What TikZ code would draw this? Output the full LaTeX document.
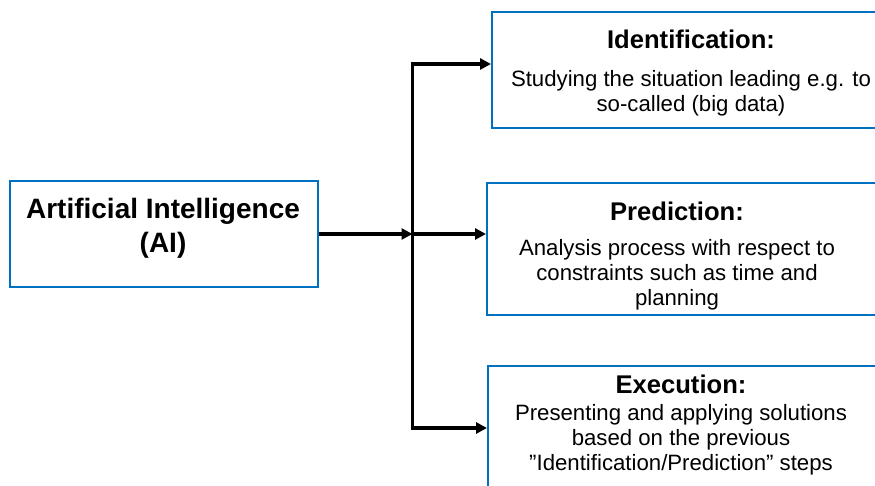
\documentclass[tikz,border=0pt]{standalone}
\usepackage{fontspec}
\setmainfont{Liberation Sans}
\usetikzlibrary{arrows.meta}
\definecolor{boxblue}{RGB}{0,112,192}
\tikzset{
  box/.style={draw=boxblue, line width=2.2pt, rectangle, inner sep=0pt},
  conn/.style={line width=3.2pt, black},
  arr/.style={conn, -{Triangle[length=11pt,width=11pt]}},
  ttl/.style={font=\fontsize{25.6}{30}\selectfont\bfseries, inner sep=0pt, anchor=center},
  bodytxt/.style={font=\fontsize{22.2}{24.8}\selectfont, align=center, inner sep=0pt, anchor=center},
}
\begin{document}
\begin{tikzpicture}[x=1pt,y=-1pt]
\useasboundingbox (0,0) rectangle (875,486);
\clip (0,0) rectangle (875,486);
\fill[white] (0,0) rectangle (875,486);
% boxes
\node[box, minimum width=308pt, minimum height=106pt] (ai) at (164,234) {};
\node[box, minimum width=420pt, minimum height=116pt, anchor=north west] (idbox) at (491,11) {};
\node[box, minimum width=420pt, minimum height=132pt, anchor=north west] (prbox) at (486,182) {};
\node[box, minimum width=420pt, minimum height=140pt, anchor=north west] (exbox) at (487,365) {};
% texts
\node[font=\fontsize{28}{34}\selectfont\bfseries, align=center, inner sep=0pt] (aitxt) at (163,228) {Artificial Intelligence\\(AI)};
\node[ttl] (idt) at (691,39) {Identification:};
\node[bodytxt] (idb) at (691,93) {Studying the situation leading e.g. to\\so-called (big data)};
\node[ttl] (prt) at (677,211) {Prediction:};
\node[bodytxt] (prb) at (677,275) {Analysis process with respect to\\constraints such as time and\\planning};
\node[ttl] (ext) at (681,384) {Execution:};
\node[bodytxt] (exb) at (681,440) {Presenting and applying solutions\\based on the previous\\”Identification/Prediction” steps};
% connectors
\coordinate (jt) at (412.5,64);
\coordinate (jm) at (412.5,234);
\coordinate (jb) at (412.5,428);
\draw[conn, line cap=rect] (jt) -- (jb);
\draw[arr] (ai.east) -- (jm);
\draw[arr, shorten <=-1.6pt] (jt) -- (jt -| idbox.west);
\draw[arr] (jm) -- (jm -| prbox.west);
\draw[arr, shorten <=-1.6pt] (jb) -- (jb -| exbox.west);
\end{tikzpicture}
\end{document}
